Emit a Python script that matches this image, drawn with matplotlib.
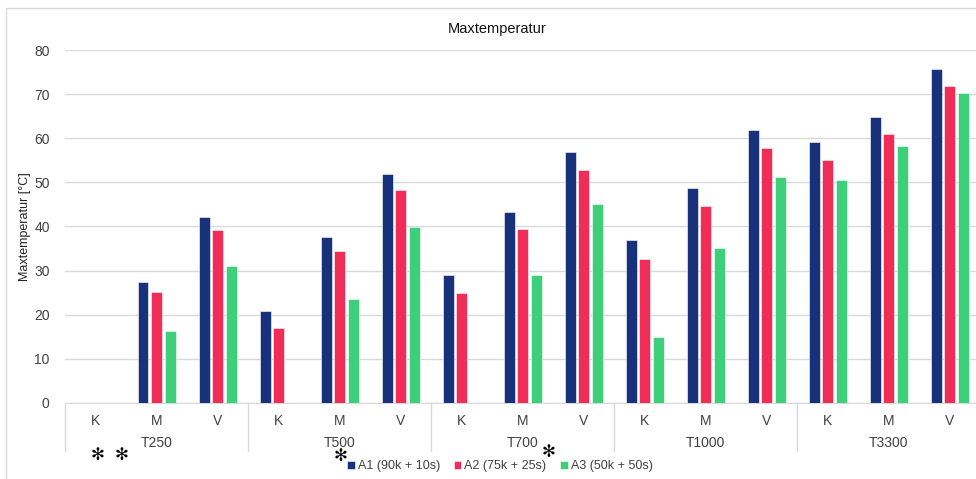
import numpy as np
import matplotlib.pyplot as plt
from matplotlib.patches import Rectangle
from matplotlib.lines import Line2D
import matplotlib.transforms as mtransforms

plt.rcParams['font.family'] = ['Liberation Sans', 'DejaVu Sans']

groups = ["T250", "T500", "T700", "T1000", "T3300"]
subcats = ["K", "M", "V"]
series_names = ["A1 (90k + 10s)", "A2 (75k + 25s)", "A3 (50k + 50s)"]
colors = ["#17317a", "#ef2d56", "#3ecf7b"]

# NaN = no bar
a1 = [np.nan, 27.4, 42.2, 20.9, 37.7, 51.9, 28.9, 43.2, 56.8, 37.0, 48.7, 61.8, 59.1, 64.9, 75.8]
a2 = [np.nan, 25.1, 39.2, 17.0, 34.4, 48.2, 24.9, 39.4, 52.9, 32.7, 44.7, 57.7, 55.0, 61.0, 71.8]
a3 = [np.nan, 16.3, 31.1, np.nan, 23.6, 39.9, np.nan, 28.9, 45.1, 14.9, 35.1, 51.2, 50.5, 58.2, 70.2]
series = [a1, a2, a3]

fig = plt.figure(figsize=(9.76, 4.79), dpi=100)
ax = fig.add_axes([0.0666, 0.1587, 0.938, 0.7369])

n = len(groups) * len(subcats)
x = np.arange(n)
width = 0.18
step = 0.222
for i, (vals, name, col) in enumerate(zip(series, series_names, colors)):
    ax.bar(x + (i - 1) * step, vals, width, color=col, label=name,
           edgecolor="white", linewidth=0.4, zorder=3)

ax.set_xlim(-0.5, n - 0.5)
ax.set_ylim(0, 80)
ax.set_yticks(np.arange(0, 81, 10))
ax.yaxis.grid(True, color="#d9d9d9", linewidth=1, zorder=0)
ax.set_xticks(x)
ax.set_xticklabels(subcats * len(groups))
ax.tick_params(axis="both", length=0, labelsize=10, colors="#404040")
ax.tick_params(axis="x", pad=8)
ax.tick_params(axis="y", pad=11)
for s in ["top", "right", "left"]:
    ax.spines[s].set_visible(False)
ax.spines["bottom"].set_color("#d9d9d9")

ax.set_ylabel("Maxtemperatur [°C]", fontsize=9, color="#222222", labelpad=2)
ax.set_title("Maxtemperatur", fontsize=10.5, color="#111111", pad=12,
             x=(497 - 65) / 915)

trans = mtransforms.blended_transform_factory(ax.transData, ax.transAxes)
for g in range(len(groups) + 1):
    xs = g * 3 - 0.5
    ax.add_line(Line2D([xs, xs], [0, -0.135], transform=trans, color="#d9d9d9",
                       linewidth=1, clip_on=False))
for g, name in enumerate(groups):
    ax.text(g * 3 + 1, -0.113, name, transform=trans, ha="center", va="center",
            fontsize=10, color="#404040")

# hand-drawn markers below the axis
for px, py in [(98, 455), (122, 455), (341, 456), (549, 452)]:
    fig.text(px / 976, 1 - py / 479, "✻", ha="center", va="center",
             fontsize=12, color="black", family=["DejaVu Sans"])

fig.legend(loc="center", bbox_to_anchor=(500 / 976, 1 - 466 / 479), ncol=3,
           frameon=False, fontsize=9, handlelength=0.6, handleheight=0.6,
           handletextpad=0.25, columnspacing=1.1, labelcolor="#404040")

fig.patches.append(Rectangle((6 / 976, -0.01), 1.0, 1 - 8 / 479 + 0.01,
                             transform=fig.transFigure, fill=False,
                             edgecolor="#d9d9d9", linewidth=1))

fig.savefig("out.png", dpi=100)
